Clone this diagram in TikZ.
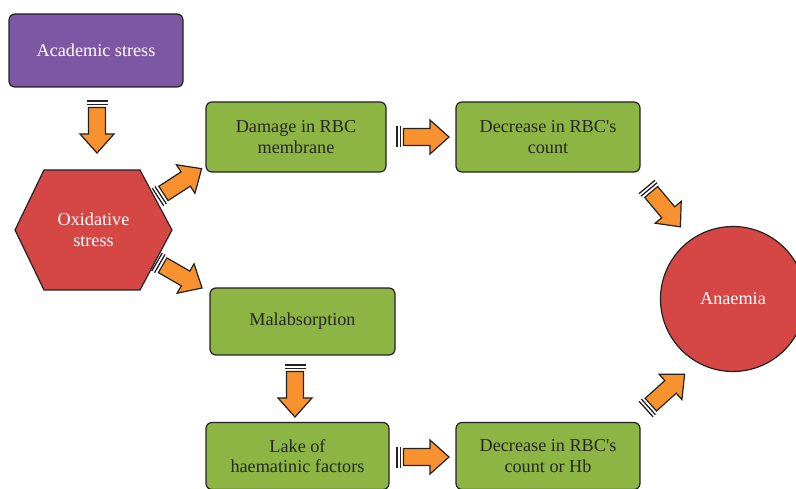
\documentclass[tikz,border=0pt]{standalone}
\usepackage{fontspec}
\setmainfont{Liberation Serif}
\newfontfamily\lserif{Liberation Serif}
\begin{document}
\definecolor{purp}{HTML}{7D56A4}
\definecolor{grn}{HTML}{8DB543}
\definecolor{redd}{HTML}{D54745}
\definecolor{orng}{HTML}{F7922E}
\definecolor{edge}{HTML}{222222}
\tikzset{
  txt/.style={align=center, font=\lserif\fontsize{18.2}{20.5}\selectfont},
  box/.style={txt, draw=edge, line width=1.2pt, rounded corners=6pt, inner sep=0pt},
  greenbox/.style={box, fill=grn, text=black!85},
  sarrow/.pic={
    \draw[edge, line width=1.3pt] (0,-10.5) -- (0,10.5);
    \draw[edge, line width=1.3pt] (3.2,-10.5) -- (3.2,10.5);
    \draw[edge, line width=1.2pt, fill=orng, line join=miter]
      (6.5,-8.5) -- (33,-8.5) -- (33,-17) -- (52,0) -- (33,17) -- (33,8.5) -- (6.5,8.5) -- cycle;
  }
}
\begin{tikzpicture}[x=1pt,y=-1pt]
\useasboundingbox (0,0) rectangle (796,489);
\clip (0,0) rectangle (796,489);
% nodes
\node[box, fill=purp, text=white, minimum width=174pt, minimum height=73pt] (acad) at (96,50.5) {Academic stress};
\fill[redd, draw=edge, line width=1.2pt] (15,230) -- (44,170) -- (140,170) -- (172,230) -- (140,290) -- (44,290) -- cycle;
\node[txt, text=white] (oxi) at (93.5,230) {Oxidative\\stress};
\node[greenbox, minimum width=180pt, minimum height=70pt] (dmg) at (296,137) {Damage in RBC\\membrane};
\node[greenbox, minimum width=184pt, minimum height=70pt] (dec1) at (548,137) {Decrease in RBC\textquotesingle s\\count};
\node[greenbox, minimum width=185pt, minimum height=67pt] (mal) at (302.5,321.5) {Malabsorption};
\node[greenbox, minimum width=183pt, minimum height=67pt] (lake) at (297.5,456) {Lake of\\haematinic factors};
\node[greenbox, minimum width=184pt, minimum height=67pt] (dec2) at (548,456) {Decrease in RBC\textquotesingle s\\count or Hb};
\node[txt, circle, draw=edge, line width=1.2pt, fill=redd, text=white, minimum size=145pt, inner sep=0pt] (anae) at (733,299) {Anaemia};
% arrows
\pic[rotate=-90] at (97,101) {sarrow};
\pic[rotate=33] at (158,197) {sarrow};
\pic[rotate=-30] at (157,262) {sarrow};
\pic at (397,137) {sarrow};
\pic[rotate=-50] at (647,187) {sarrow};
\pic[rotate=-90] at (295,365) {sarrow};
\pic at (397,457) {sarrow};
\pic[rotate=42] at (646,409) {sarrow};
\end{tikzpicture}
\end{document}
